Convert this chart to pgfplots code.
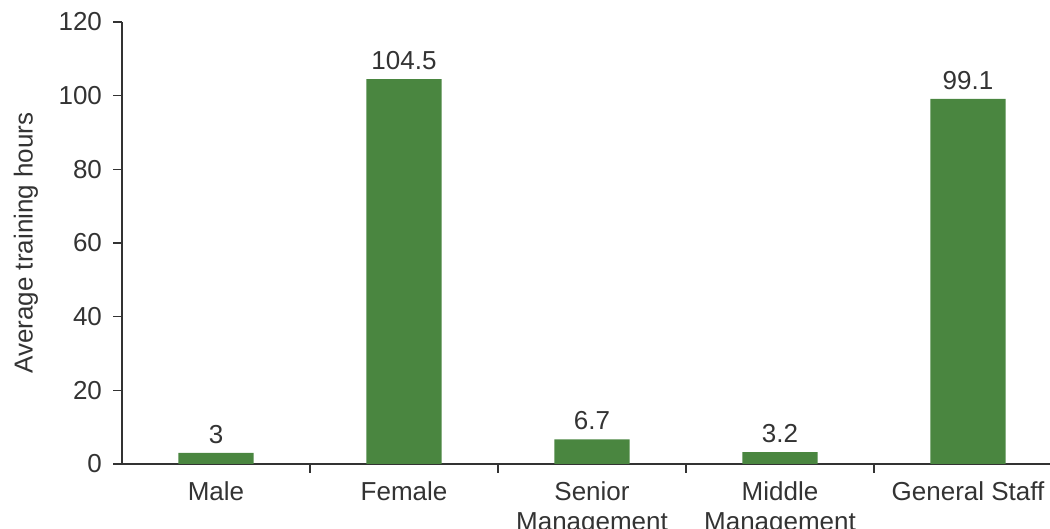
\documentclass[border=0pt]{standalone}
\usepackage{pgfplots}
\pgfplotsset{compat=1.18}
\usepackage{fontspec}
\setmainfont{Liberation Sans}
\definecolor{bargreen}{RGB}{74,134,64}
\definecolor{txt}{RGB}{51,51,51}
\begin{document}
\begin{tikzpicture}
\begin{axis}[
  scale only axis, width=464pt, height=221pt,
  xmin=-0.5, xmax=4.436, ymin=0, ymax=120,
  axis x line*=bottom, axis y line*=left,
  axis line style={draw=txt, line width=0.6pt},
  ytick={0,20,...,120},
  xtick={0,1,2,3,4},
  xticklabels={Male,Female,{Senior\\Management},{Middle\\Management},General Staff},
  minor xtick={0.5,1.5,2.5,3.5},
  major x tick style={draw=none},
  xtick align=inside, ytick align=outside,
  tick style={draw=txt, line width=0.6pt},
  major tick length=4.5pt, minor tick length=4.5pt,
  every tick label/.append style={font=\fontsize{13}{15}\selectfont, text=txt},
  xticklabel style={align=center, yshift=-1pt},
  yticklabel style={xshift=-2pt},
  /pgf/number format/assume math mode=true,
  ylabel={Average training hours},
  ylabel style={font=\fontsize{13}{15}\selectfont, text=txt, at={(axis description cs:-0.1035,0.5)}, anchor=center},
  ybar, bar width=0.4,
  nodes near coords,
  nodes near coords style={font=\fontsize{13}{15}\selectfont, text=txt, yshift=1pt},
]
\addplot[fill=bargreen, draw=none] coordinates {(0,3) (1,104.5) (2,6.7) (3,3.2) (4,99.1)};
\end{axis}
\pgfresetboundingbox
\path (current axis.south west) ++(-61pt,-32.5pt) rectangle ([yshift=11pt]current axis.north east);
\end{tikzpicture}
\end{document}
